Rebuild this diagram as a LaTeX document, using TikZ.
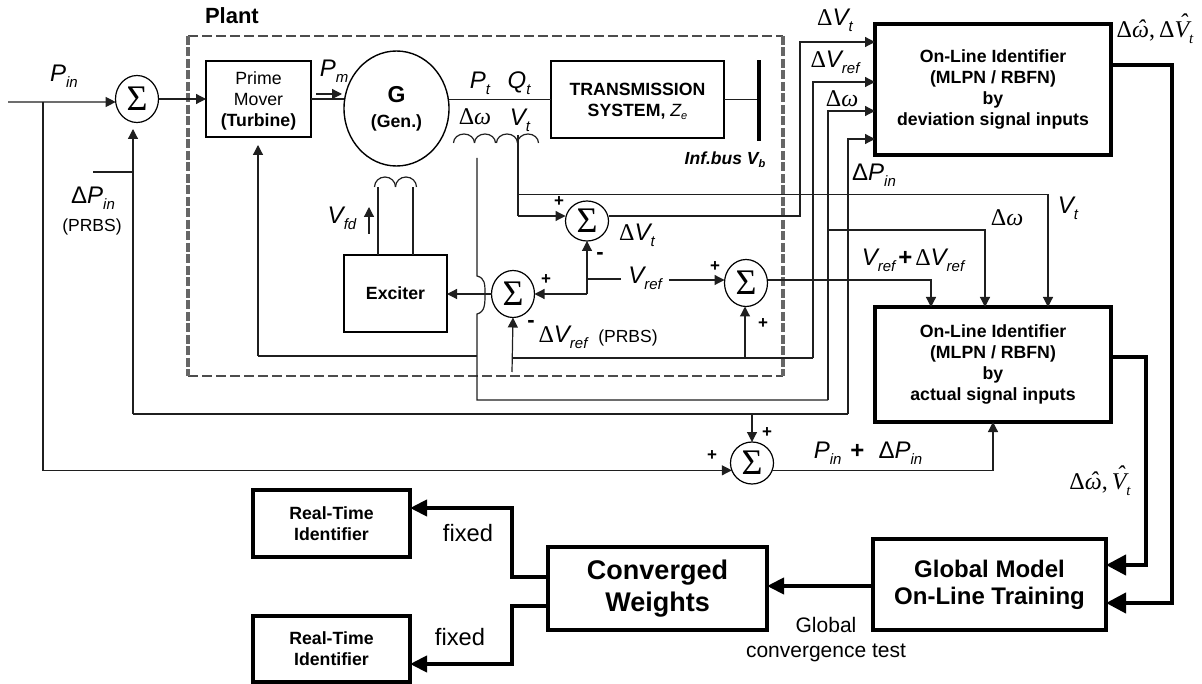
\documentclass[tikz,border=0pt]{standalone}
\usepackage{fontspec}
\setmainfont{Liberation Sans}
\newfontfamily\serifgr{Liberation Serif}
\usepackage{tikz}
\usetikzlibrary{arrows.meta,shapes.geometric}

\newcommand{\sig}[2]{{\fontsize{24}{24}\selectfont\itshape #1\raisebox{-6pt}{\fontsize{15}{15}\selectfont #2}}}
\newcommand{\dlt}{{\serifgr\fontsize{24}{24}\selectfont Δ}}
\newcommand{\omg}{{\serifgr\itshape\fontsize{24}{24}\selectfont ω}}
\newcommand{\hatted}[3]{\ooalign{#3\cr\hidewidth\hspace{#1}\raisebox{#2}{ˆ}\hidewidth\cr}}
\newcommand{\omghat}{{\serifgr\itshape\fontsize{24}{24}\selectfont\hatted{1pt}{1pt}{ω}}}
\newcommand{\vthat}{{\serifgr\itshape\fontsize{24}{24}\selectfont\hatted{3pt}{7pt}{V}\raisebox{-6pt}{\fontsize{15}{15}\selectfont t}}}
\newcommand{\sumsign}{{\serifgr\fontsize{36}{36}\selectfont Σ}}

\tikzset{
    thinbox/.style={draw, line width=1.4pt, inner sep=0pt, outer sep=0pt, align=center, font=\fontsize{17.7}{21}\selectfont},
    heavybox/.style={thinbox, line width=4pt, font=\fontsize{17.7}{21}\selectfont\bfseries},
    sumnode/.style={draw, ellipse, line width=1.2pt, inner sep=0pt, outer sep=0pt, minimum width=43pt, minimum height=47pt},
    lbl/.style={inner sep=0pt, outer sep=0pt, align=center},
    pm/.style={lbl, font=\fontsize{17}{17}\selectfont\bfseries},
    mn/.style={lbl, font=\fontsize{22}{22}\selectfont\bfseries},
    wire/.style={line width=1.2pt, black!88},
    sigarrow/.style={wire, -{Stealth[length=10pt,width=10pt,inset=0pt]}},
    fatwire/.style={line width=4pt},
    fatarrow/.style={fatwire, -{Stealth[length=20pt,width=20pt,inset=0pt]}},
    midarrow/.style={fatwire, -{Stealth[length=17pt,width=16pt,inset=0pt]}},
    plantside/.style={line width=3.2pt, black!60, dash pattern=on 9pt off 2.5pt},
    plantedge/.style={line width=1.7pt, black!70, dash pattern=on 10pt off 4pt}
}

\begin{document}
\begin{tikzpicture}[x=1pt, y=-1pt]
    \useasboundingbox (0,0) rectangle (1202,684);

    \draw[plantedge] (188,36) -- (783,36);
    \draw[plantedge] (188,376) -- (783,376);
    \draw[plantside] (188,36) -- (188,376);
    \draw[plantside] (783,36) -- (783,376);
    \node[lbl, anchor=west, font=\fontsize{22}{22}\selectfont\bfseries] (plantlbl) at (205,16) {Plant};

    \node[thinbox, minimum width=105pt, minimum height=76pt] (prime) at (258.5,99) {\rule{0pt}{17pt}Prime\\Mover\\\textbf{(Turbine)}};
    \node[draw, ellipse, line width=1.4pt, inner sep=0pt, outer sep=0pt, minimum width=105pt, minimum height=115pt, align=center, font=\fontsize{17.7}{25}\selectfont\bfseries] (gen) at (396.5,108.5)
        {{\fontsize{23}{25}\selectfont G}\\(Gen.)};
    \node[thinbox, minimum width=173pt, minimum height=77pt, font=\fontsize{17.7}{21}\selectfont\bfseries] (trans) at (637.5,99.5)
        {\rule{0pt}{17pt}TRANSMISSION\\SYSTEM, {\mdseries\itshape Z\raisebox{-3pt}{\fontsize{11}{11}\selectfont e}}};
    \node[fill=black, inner sep=0pt, outer sep=0pt, minimum width=4.5pt, minimum height=81pt] (infbus) at (759,100.5) {};
    \node[thinbox, minimum width=103pt, minimum height=77pt, font=\fontsize{17.7}{21}\selectfont\bfseries] (exciter) at (395.5,293.5) {Exciter};

    \node[heavybox, minimum width=236pt, minimum height=131pt] (iddev) at (993,89.5) {On-Line Identifier\\(MLPN / RBFN)\\by\\deviation signal inputs};
    \node[heavybox, minimum width=236pt, minimum height=115pt] (idact) at (993,364.5) {On-Line Identifier\\(MLPN / RBFN)\\by\\actual signal inputs};
    \node[heavybox, minimum width=233pt, minimum height=91pt, font=\fontsize{24}{27}\selectfont\bfseries] (global) at (989.5,584.5) {Global Model\\On-Line Training};
    \node[heavybox, minimum width=219pt, minimum height=83pt, font=\fontsize{27}{32}\selectfont\bfseries] (conv) at (657.5,588.5) {Converged\\Weights};
    \node[heavybox, line width=3.5pt, minimum width=157pt, minimum height=67pt] (rttop) at (331.5,523.5) {Real-Time\\Identifier};
    \node[heavybox, line width=3.5pt, minimum width=157pt, minimum height=66pt] (rtbot) at (331.5,649) {Real-Time\\Identifier};

    \node[sumnode] (suma) at (137,99) {\sumsign};
    \node[sumnode, minimum height=40pt] (sumb) at (587,221) {\sumsign};
    \node[sumnode] (sumc) at (513,294) {\sumsign};
    \node[sumnode] (sumd) at (746,283) {\sumsign};
    \node[sumnode, minimum height=42pt] (sume) at (752,463) {\sumsign};

    \coordinate (pinstart) at (8,102);
    \coordinate (pinbranch) at (43,102);
    \coordinate (dpinstart) at (93,172);
    \coordinate (dpinup) at (133,172);
    \coordinate (dpintip) at (133,129);
    \coordinate (dpinleft) at (133,414);
    \coordinate (dpinright) at (848,414);
    \coordinate (dpinbranch) at (752,414);
    \coordinate (govtip) at (258,145);
    \coordinate (govcorner) at (258,356);
    \coordinate (omgtop) at (477,158);
    \coordinate (omgbot) at (477,400);
    \coordinate (omgright) at (828,400);
    \coordinate (omgbranch) at (828,230);
    \coordinate (vttop) at (518,135);
    \coordinate (vtbranch) at (518,194.5);
    \coordinate (vtcorner) at (518,216);
    \coordinate (refjoin) at (587,294);
    \coordinate (refbranch) at (587,279);
    \coordinate (prbsstart) at (512,372);
    \coordinate (prbsjoin) at (512,358);
    \coordinate (prbsbranch) at (745,358);
    \coordinate (prbsright) at (813,358);

    \draw[sigarrow] (pinstart) -- (suma.188);
    \draw[wire] (pinbranch) |- (sume.200);
    \draw[sigarrow] (pinbranch |- sume.200) -- (sume.200);
    \draw[wire] (dpinstart) -- (dpinup);
    \draw[sigarrow] (dpinleft) -- (dpintip);
    \draw[wire] (dpinleft) -- (dpinright);
    \draw[sigarrow] (dpinright) |- (iddev.west |- 0,139);
    \draw[sigarrow] (dpinbranch) -- (sume.north);

    \draw[sigarrow] (suma.east) -- (prime.west);
    \draw[wire] (prime.east) -- (gen.west |- prime.east);
    \draw[wire] (gen.east |- trans.west) -- (trans.west);
    \draw[wire] (trans.east) -- (infbus.west |- trans.east);

    \draw[sigarrow] (govcorner) -- (govtip);
    \draw[wire] (govcorner) -- (omgtop |- govcorner);
    \draw[wire] (omgtop) -- (477,276) .. controls (485,278) and (485,284) .. (485,294) .. controls (485,304) and (485,312) .. (477,314) -- (omgbot) -- (omgright);
    \draw[sigarrow] (omgright) |- (iddev.west |- 0,111);
    \draw[sigarrow] (omgbranch) -| (idact.north -| 985,0);

    \draw[wire] (vttop) -- (vtcorner);
    \draw[sigarrow] (vtcorner) -- (sumb.west |- vtcorner);
    \draw[sigarrow] (vtbranch) -| (idact.north -| 1048,0);
    \draw[sigarrow] (sumb.east |- 0,216) -| (800,42) -- (iddev.west |- 0,42);

    \draw[sigarrow] (refjoin) -- (sumb.south);
    \draw[sigarrow] (refjoin) -- (sumc.east);
    \draw[sigarrow] (sumc.west) -- (exciter.east |- sumc.west);
    \node[lbl, inner xsep=7pt] (vrefmid) at (645,278) {\sig{V}{ref}};
    \draw[wire] (refbranch) -- (vrefmid.west |- refbranch);
    \draw[sigarrow] (vrefmid.east |- 0,280) -- (sumd.west |- 0,280);
    \draw[sigarrow] (sumd.east |- 0,280) -| (idact.north -| 931,0);

    \draw[sigarrow] (prbsstart) -- (sumc.south);
    \draw[wire] (prbsjoin) -- (prbsright);
    \draw[sigarrow] (prbsright) |- (iddev.west |- 0,82);
    \draw[sigarrow] (prbsbranch) -- (sumd.south -| prbsbranch);

    \draw[sigarrow] (sume.340) -| (idact.south);

    \draw[sigarrow] (316,94) -- (342,94);
    \draw[sigarrow] (369,234) -- (369,207);
    \draw[wire] (378,255) -- (378,187);
    \draw[wire] (413,255) -- (413,187);
    \foreach \cx in {385,406}
        \draw[wire] (\cx-10.5,187) arc[start angle=180, end angle=0, x radius=10.5pt, y radius=10pt];
    \foreach \cx in {464,485,507,528}
        \draw[wire] (\cx-10.5,143) arc[start angle=180, end angle=0, x radius=10.5pt, y radius=9pt];

    \draw[fatarrow] (iddev.east |- 0,65) -| (1172,603) -- (global.east |- 0,603);
    \draw[fatarrow] (idact.east |- 0,357) -| (1146,565) -- (global.east |- 0,565);
    \draw[midarrow] (global.west |- 0,586) -- (conv.east |- 0,586);
    \draw[midarrow] (conv.west |- 0,577) -| (512,508) -- (rttop.east |- 0,508);
    \draw[midarrow] (conv.west |- 0,606) -| (512,664) -- (rtbot.east |- 0,664);

    \node[lbl] (pinlbl) at (64,76) {\sig{P}{in}};
    \node[lbl] (dpinlbl) at (93,198) {{\fontsize{24}{24}\selectfont Δ}\sig{P}{in}};
    \node[lbl, font=\fontsize{17.5}{17.5}\selectfont] (prbsa) at (92,227) {(PRBS)};
    \node[lbl] (pmlbl) at (334,71) {\sig{P}{m}};
    \node[lbl] (ptlbl) at (480,83) {\sig{P}{t}};
    \node[lbl] (qtlbl) at (519,83) {\sig{Q}{t}};
    \node[lbl] (wlbl) at (475,117) {\dlt\omg};
    \node[lbl] (vtlbl) at (520,120) {\sig{V}{t}};
    \node[lbl] (vfdlbl) at (342,218) {\sig{V}{fd}};
    \node[lbl] (dvtmid) at (637,235) {\dlt\sig{V}{t}};
    \node[lbl] (dvrefmid) at (563,337) {\dlt\sig{V}{ref}};
    \node[lbl, font=\fontsize{17.5}{17.5}\selectfont] (prbsb) at (628,338) {(PRBS)};
    \node[lbl, font=\fontsize{17.5}{17.5}\selectfont\bfseries\itshape] (inflbl) at (725,160) {Inf.bus V\raisebox{-3pt}{\fontsize{11}{11}\selectfont b}};

    \node[pm] (pa) at (559,202) {+};
    \node[mn] (ma) at (600,256) {-};
    \node[pm] (pb) at (546,280) {+};
    \node[mn] (mb) at (531,324) {-};
    \node[pm] (pc) at (715,267) {+};
    \node[pm] (pd) at (763,324) {+};
    \node[pm] (pe) at (712,456) {+};
    \node[pm] (pf) at (767,433) {+};

    \node[lbl] (dvttop) at (835,20) {\dlt\sig{V}{t}};
    \node[lbl] (dvreftop) at (835,62) {\dlt\sig{V}{ref}};
    \node[lbl] (wtop) at (842,99) {\dlt\omg};
    \node[lbl] (dpintop) at (874,175) {{\fontsize{24}{24}\selectfont Δ}\sig{P}{in}};
    \node[lbl] (vtright) at (1068,208) {\sig{V}{t}};
    \node[lbl] (wright) at (1007,218) {\dlt\omg};
    \node[lbl] (vrefsum) at (913,260) {\sig{V}{ref}\hspace{3pt}{\fontsize{24}{24}\selectfont\bfseries +}\hspace{3pt}\dlt\sig{V}{ref}};
    \node[lbl] (outdev) at (1155,33) {\dlt\omghat{\serifgr\fontsize{24}{24}\selectfont ,\,}\dlt\vthat};
    \node[lbl] (outact) at (1100,485) {\dlt\omghat{\serifgr\fontsize{24}{24}\selectfont ,\,}\vthat};
    \node[lbl] (pinsum) at (868,453) {\sig{P}{in}\hspace{9pt}{\fontsize{24}{24}\selectfont\bfseries +}\hspace{14pt}{\fontsize{24}{24}\selectfont Δ}\sig{P}{in}};

    \node[lbl, font=\fontsize{23.7}{23.7}\selectfont] (fixa) at (468,533) {fixed};
    \node[lbl, font=\fontsize{23.7}{23.7}\selectfont] (fixb) at (460,637) {fixed};
    \node[lbl, font=\fontsize{21}{25}\selectfont] (testlbl) at (826,640) {Global\\convergence test};
\end{tikzpicture}
\end{document}
